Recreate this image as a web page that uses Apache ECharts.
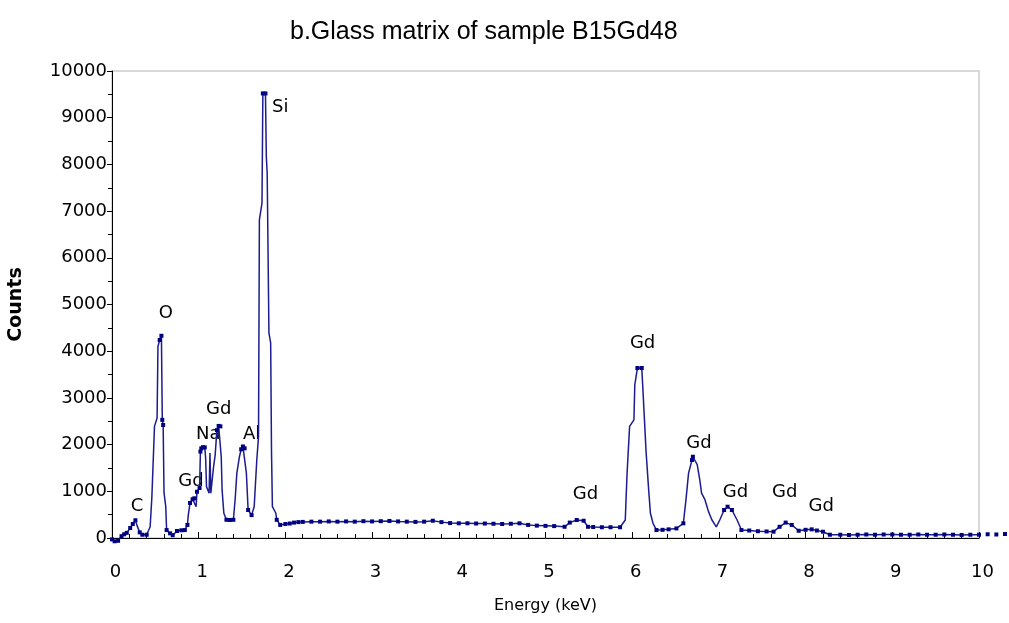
<!DOCTYPE html>
<html>
<head>
<meta charset="utf-8">
<script src="https://cdn.jsdelivr.net/npm/echarts@6/dist/echarts.min.js"></script>
<style>
html, body { margin: 0; padding: 0; background: #fff; }
#container_1 { width: 1009px; height: 623px; }
</style>
</head>
<body>
<div id="container_1"></div>
<script>
// spectrum
var energy = [
	0.00, 0.03, 0.07, 0.11, 0.14, 0.17, 0.21, 0.24, 0.27, 0.29, 0.32, 0.35, 0.40, 0.44, 0.46, 0.49,
	0.52, 0.53, 0.55, 0.57, 0.58, 0.59, 0.60, 0.62, 0.63, 0.67, 0.70, 0.75, 0.80, 0.84, 0.87, 0.88,
	0.90, 0.93, 0.95, 0.97, 0.98, 1.01, 1.02, 1.03, 1.05, 1.07, 1.08, 1.09, 1.12, 1.13, 1.14, 1.17,
	1.19, 1.21, 1.23, 1.25, 1.26, 1.27, 1.29, 1.32, 1.36, 1.40, 1.42, 1.44, 1.47, 1.49, 1.51, 1.53,
	1.55, 1.57, 1.61, 1.64, 1.67, 1.69, 1.70, 1.73, 1.74, 1.77, 1.78, 1.79, 1.81, 1.83, 1.84, 1.85,
	1.89, 1.90, 1.94,
	2.00, 2.05, 2.10, 2.15, 2.20, 2.30, 2.40, 2.50, 2.60, 2.70, 2.80, 2.90, 3.00, 3.10, 3.20, 3.30,
	3.40, 3.50, 3.60, 3.70, 3.80, 3.90, 4.00, 4.10, 4.20, 4.30, 4.40, 4.50, 4.60, 4.70, 4.80, 4.90,
	5.00, 5.10, 5.22, 5.28, 5.36, 5.44, 5.49, 5.55, 5.65, 5.75, 5.86, 5.92, 5.94, 5.97, 6.02, 6.03,
	6.06, 6.11, 6.12, 6.16, 6.19, 6.21, 6.24, 6.28, 6.35, 6.42, 6.51, 6.59, 6.62, 6.65, 6.69, 6.70,
	6.75, 6.78, 6.80, 6.84, 6.88, 6.92, 6.97, 7.01, 7.06, 7.10, 7.15, 7.21, 7.26, 7.35, 7.45, 7.55,
	7.63, 7.70, 7.77, 7.84, 7.92, 8.00, 8.07, 8.13, 8.20, 8.28, 8.40, 8.50, 8.60, 8.70, 8.80, 8.90,
	9.00, 9.10, 9.20, 9.30, 9.40, 9.50, 9.60, 9.70, 9.80, 9.90, 10.00, 10.10, 10.20, 10.30
];
var counts = [
	-30, -70, -60, 40, 80, 110, 215, 300, 380, 260, 120, 70, 70, 240, 880, 2390,
	2570, 4100, 4240, 4330, 2530, 2420, 970, 670, 170, 100, 60, 150, 165, 170, 280, 490,
	750, 830, 850, 670, 990, 1070, 1850, 1920, 1945, 1940, 1710, 1100, 960, 1820, 960, 1500,
	1780, 2310, 2400, 2390, 1740, 1030, 530, 390, 385, 390, 820, 1390, 1740, 1900, 1960, 1920,
	1390, 600, 490, 670, 1670, 2170, 6810, 7170, 9520, 9520, 8170, 7810, 4390, 4180, 1820, 670,
	530, 390, 280,
	300, 310, 330, 340, 345, 350, 350, 355, 350, 355, 350, 360, 355, 360, 365, 355,
	350, 345, 350, 370, 340, 320, 315, 315, 310, 310, 305, 300, 305, 315, 280, 265,
	260, 255, 240, 330, 385, 370, 240, 235, 230, 230, 230, 385, 1350, 2390, 2530, 3280,
	3640, 3640, 3310, 1850, 1030, 530, 315, 170, 175, 185, 205, 315, 815, 1390, 1670, 1740,
	1570, 1240, 960, 815, 565, 385, 240, 385, 600, 670, 600, 385, 170, 160, 145, 140,
	135, 240, 330, 280, 155, 175, 185, 160, 135, 70, 70, 65, 70, 75, 70, 75,
	75, 70, 70, 75, 70, 70, 75, 70, 65, 70, 70, 80, 75, 85
];

// peak annotations
var peakNames = ['C', 'O', 'Gd', 'Na', 'Gd', 'Al', 'Si', 'Gd', 'Gd', 'Gd', 'Gd', 'Gd', 'Gd'];
var peakE = [0.29, 0.62, 0.91, 1.11, 1.23, 1.61, 1.94, 5.46, 6.12, 6.77, 7.19, 7.76, 8.18];
var peakC = [685, 4815, 1220, 2225, 2760, 2225, 9230, 940, 4175, 2035, 985, 985, 685];

var xTicks = [0, 10, 1];       // min, max, step
var yTicks = [0, 10000, 1000];

(function(){
	var dom = document.getElementById("container_1");
	var myChart = echarts.init(dom);

	var specData = [];
	for (var i = 0; i < energy.length; i++) {
		specData.push([energy[i], counts[i]]);
	}
	var labelData = [];
	for (var j = 0; j < peakNames.length; j++) {
		labelData.push({name: peakNames[j], value: [peakE[j], peakC[j]]});
	}

	var font = 'DejaVu Sans';
	var option1 = {
		animation: false,
		title: {
			text: 'b.Glass matrix of sample B15Gd48',
			left: 290,
			top: 20,
			padding: 0,
			textStyle: {
				fontFamily: 'Liberation Sans',
				fontWeight: 'normal',
				fontSize: 25,
				color: '#000'
			}
		},
		grid: {
			left: 112,
			right: 30,
			top: 71,
			bottom: 85,
			containLabel: false,
			outerBoundsMode: 'none',
			show: true,
			borderColor: '#d9d9d9',
			borderWidth: 2
		},
		xAxis: {
			type: 'value',
			min: xTicks[0],
			max: xTicks[1],
			interval: xTicks[2],
			name: 'Energy (keV)',
			nameLocation: 'middle',
			nameGap: 60,
			nameTextStyle: {fontFamily: font, fontSize: 16, color: '#000'},
			splitLine: {show: false},
			axisLine: {lineStyle: {color: '#000', width: 1}},
			axisTick: {inside: true, length: 6, lineStyle: {color: '#000'}},
			minorTick: {show: true, splitNumber: 5, length: 4, lineStyle: {color: '#000'}},
			axisLabel: {
				margin: 25,
				padding: [0, 0, 0, 7],
				fontFamily: font,
				fontSize: 18,
				color: '#000'
			}
		},
		yAxis: {
			type: 'value',
			min: yTicks[0],
			max: yTicks[1],
			interval: yTicks[2],
			name: 'Counts',
			nameLocation: 'middle',
			nameGap: 86,
			nameTextStyle: {fontFamily: font, fontSize: 19, fontWeight: 'bold', color: '#000'},
			splitLine: {show: false},
			axisLine: {lineStyle: {color: '#000', width: 1}},
			axisTick: {inside: false, length: 5, lineStyle: {color: '#000'}},
			minorTick: {show: true, splitNumber: 2, length: 4, lineStyle: {color: '#000'}},
			axisLabel: {
				margin: 5,
				fontFamily: font,
				fontSize: 18,
				color: '#000',
				formatter: function(v) { return String(v); }
			}
		},
		series: [
			{
				name: 'spectrum',
				type: 'line',
				data: specData,
				clip: false,
				symbol: 'rect',
				symbolSize: function(val, params) {
					// flat stretches look thick in the original
					var k = params.dataIndex;
					var dp = k > 0 ? Math.abs(counts[k] - counts[k - 1]) : 0;
					var dn = k < counts.length - 1 ? Math.abs(counts[k] - counts[k + 1]) : 0;
					return Math.min(dp, dn) < 120 ? 4 : 0;
				},
				itemStyle: {color: '#000080'},
				lineStyle: {color: '#1c1c90', width: 1.5}
			},
			{
				name: 'peaks',
				type: 'scatter',
				data: labelData,
				symbolSize: 1,
				itemStyle: {color: 'transparent'},
				label: {
					show: true,
					position: 'inside',
					formatter: '{b}',
					fontFamily: font,
					fontSize: 18,
					color: '#000',
					opacity: 1,
					textBorderWidth: 0
				},
				silent: true
			}
		]
	};
	myChart.setOption(option1, true);
})();
</script>
</body>
</html>
